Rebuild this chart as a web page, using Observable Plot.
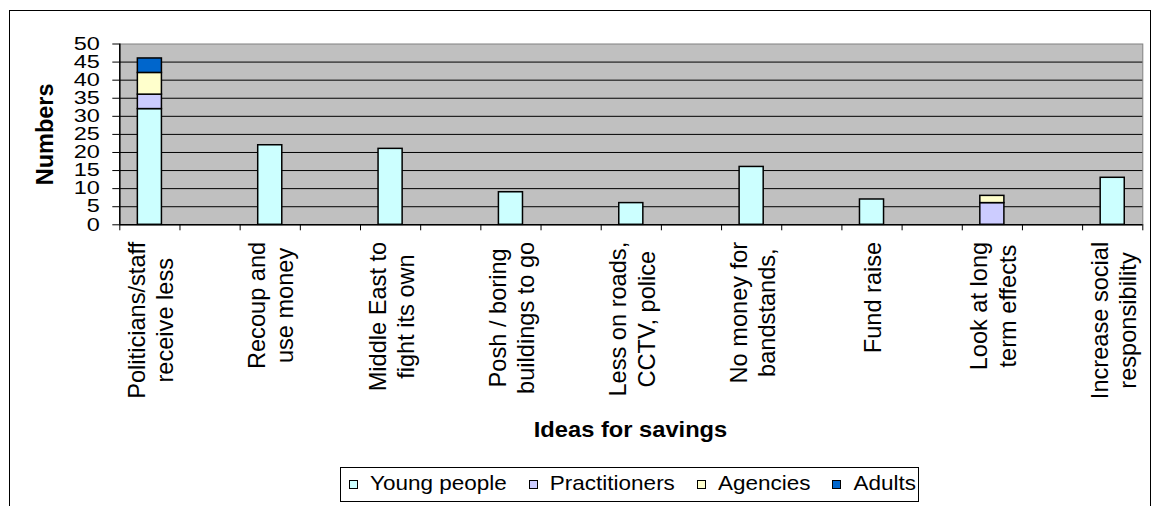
<!DOCTYPE html>
<html><head><meta charset="utf-8">
<script src="https://cdn.jsdelivr.net/npm/d3@7"></script>
<script src="https://cdn.jsdelivr.net/npm/@observablehq/plot@0.6"></script>
<style>
body{margin:0;background:#fff;}
#chart{position:relative;width:1159px;height:506px;overflow:hidden;background:#fff;font-family:"Liberation Sans",Arial,sans-serif;color:#000;}
#border{position:absolute;left:9px;top:10px;width:1142px;height:600px;border:1px solid #000;box-sizing:border-box;}
#plot{position:absolute;left:0;top:0;}
#title{position:absolute;left:119px;width:1023px;top:419px;text-align:center;font-weight:bold;font-size:23.7px;line-height:1;transform:scaleY(0.9);}
#legend{position:absolute;left:340px;top:467px;width:579px;height:35px;box-sizing:border-box;border:1px solid #000;background:#fff;display:flex;align-items:center;padding-left:8px;font-size:22.5px;}
.item{display:flex;align-items:center;margin-right:22px;}
.sw{width:9px;height:9px;border:1px solid #000;box-sizing:border-box;margin-right:12px;}
.lab{transform:scaleY(0.9);line-height:1;white-space:nowrap;}
</style></head><body>
<div id="chart"><div id="border"></div><div id="plot"></div><div id="title"></div><div id="legend"></div></div>
<script>
// Categories (every other slot is unlabelled in the original chart)
const categories = [
  "Politicians/staff receive less", "", "Recoup and use money", "", "Middle East to fight its own", "",
  "Posh / boring buildings to go", "", "Less on roads, CCTV, police", "", "No money for bandstands,", "",
  "Fund raise", "", "Look at long term effects", "", "Increase social responsibility"
];
const tickLabels = [
  "Politicians/staff\nreceive less", "", "Recoup and\nuse money", "", "Middle East to\nfight its own", "",
  "Posh / boring\nbuildings to go", "", "Less on roads,\nCCTV, police", "", "No money for\nbandstands,", "",
  "Fund raise", "", "Look at long\nterm effects", "", "Increase social\nresponsibility"
];
const seriesNames = ["Young people", "Practitioners", "Agencies", "Adults"];
const seriesColors = ["#CCFFFF", "#CCCCFF", "#FFFFCC", "#0066CC"];
const youngPeople   = [32, 0, 22, 0, 21, 0, 9, 0, 6, 0, 16, 0, 7, 0, 0, 0, 13];
const practitioners = [4, 0, 0, 0, 0, 0, 0, 0, 0, 0, 0, 0, 0, 0, 6, 0, 0];
const agencies      = [6, 0, 0, 0, 0, 0, 0, 0, 0, 0, 0, 0, 0, 0, 2, 0, 0];
const adults        = [4, 0, 0, 0, 0, 0, 0, 0, 0, 0, 0, 0, 0, 0, 0, 0, 0];
const yTicks = [0, 5, 10, 15, 20, 25, 30, 35, 40, 45, 50];
const yLabel = "Numbers";
const xLabel = "Ideas for savings";

const seriesValues = [youngPeople, practitioners, agencies, adults];
const rows = [];
seriesNames.forEach((s, k) => seriesValues[k].forEach((v, i) => { if (v > 0) rows.push({slot: i, series: s, value: v}); }));

const FONT = 23.6;
const ctx = document.createElement("canvas").getContext("2d");
ctx.font = `${FONT}px "Liberation Sans"`;

const labelMarks = tickLabels.map((lab, i) => {
  if (!lab) return null;
  const maxLen = d3.max(lab.split("\n"), l => ctx.measureText(l).width);
  return Plot.text([{slot: i, label: lab}], {
    x: d => d.slot + 0.5, text: "label", frameAnchor: "bottom",
    rotate: -90, textAnchor: "middle", lineAnchor: "middle", lineHeight: 1.2,
    fontSize: FONT, dy: 17 + maxLen / 2, fill: "#000"
  });
}).filter(Boolean);

const plot = Plot.plot({
  width: 1159, height: 420,
  marginLeft: 119.3, marginRight: 16.7, marginTop: 43.5, marginBottom: 195.7,
  style: {fontFamily: "'Liberation Sans', Arial, sans-serif", color: "#000", background: "transparent", overflow: "visible"},
  x: {domain: [0, categories.length]},
  y: {domain: [0, 50]},
  color: {domain: seriesNames, range: seriesColors},
  marks: [
    Plot.frame({fill: "#C0C0C0", stroke: "#808080"}),
    Plot.ruleY(yTicks.filter(t => t > 0 && t < 50), {stroke: "#000", strokeWidth: 1}),
    Plot.ruleX([0], {stroke: "#000", strokeWidth: 1.5}),
    Plot.ruleY([0], {stroke: "#000", strokeWidth: 1.5}),
    Plot.rectY(rows, {x1: d => d.slot + 0.3, x2: d => d.slot + 0.7, y: "value", fill: "series", stroke: "#000", strokeWidth: 1.5}),
    Plot.axisY({ticks: yTicks, tickSize: 7, tickPadding: 13, fontSize: 23.5, label: null}),
    Plot.axisX({ticks: d3.range(categories.length + 1), tickSize: 6, tickFormat: () => "", label: null}),
    ...labelMarks,
    Plot.text([yLabel], {frameAnchor: "left", rotate: -90, dx: -74.3, textAnchor: "middle", lineAnchor: "middle", fontWeight: "bold", fontSize: 23.5, fill: "#000"})
  ]
});
plot.querySelectorAll('[aria-label="y-axis tick label"] text').forEach(t => {
  t.setAttribute("transform", (t.getAttribute("transform") || "") + " scale(1,0.76)");
});
document.getElementById("plot").appendChild(plot);
document.getElementById("title").textContent = xLabel;
const legend = document.getElementById("legend");
seriesNames.forEach((s, k) => {
  const it = document.createElement("div"); it.className = "item";
  const sw = document.createElement("div"); sw.className = "sw"; sw.style.background = seriesColors[k];
  const lb = document.createElement("span"); lb.className = "lab"; lb.textContent = s;
  it.appendChild(sw); it.appendChild(lb); legend.appendChild(it);
});
</script>
</body></html>
